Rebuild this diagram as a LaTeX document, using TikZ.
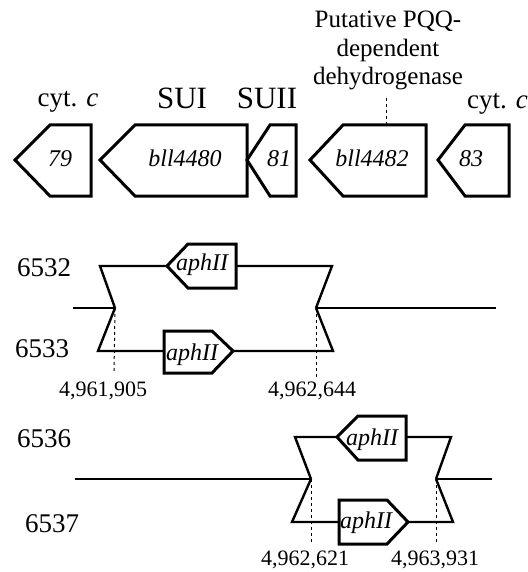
\documentclass[tikz,border=0pt]{standalone}
\usepackage{fontspec}
\setmainfont{Liberation Serif}
\begin{document}
\begin{tikzpicture}[x=1pt,y=-1pt,
  gene/.style={line width=3pt,line join=miter},
  chrom/.style={line width=2.4pt,line join=miter},
  marker/.style={line width=3pt,line join=miter,fill=white},
  site/.style={dashed,line width=1pt},
  lab/.style={inner sep=0pt,font=\fontsize{27}{29}\selectfont},
  big/.style={inner sep=0pt,font=\fontsize{31}{33}\selectfont},
  glab/.style={inner sep=0pt,font=\fontsize{24}{26}\selectfont\itshape},
  plab/.style={inner sep=0pt,font=\fontsize{25}{27}\selectfont},
  clab/.style={inner sep=0pt,font=\fontsize{22}{24}\selectfont}]
\useasboundingbox (0,0) rectangle (527,572);
% ---------- top gene map ----------
\draw[gene] (15,160) -- (50,125) -- (91,125) -- (91,196) -- (50,196) -- cycle;
\draw[gene] (100,160) -- (135,125) -- (247,125) -- (247,196) -- (135,196) -- cycle;
\draw[gene] (247,160) -- (270,125) -- (296,125) -- (296,196) -- (270,196) -- cycle;
\draw[gene] (310,160) -- (343,125) -- (426,125) -- (426,196) -- (343,196) -- cycle;
\draw[gene] (438,160) -- (465,125) -- (509,125) -- (509,196) -- (465,196) -- cycle;
\node[glab,anchor=base] (g79) at (60,167) {79};
\node[glab,anchor=base] (g80) at (185,167) {bll4480};
\node[glab,anchor=base] (g81) at (279,167) {81};
\node[glab,anchor=base] (g82) at (372,167) {bll4482};
\node[glab,anchor=base] (g83) at (471,167) {83};
\node[lab,anchor=base] (c1) at (68,107) {cyt. \textit{c}};
\node[big,anchor=base] (s1) at (182,109) {SUI};
\node[big,anchor=base] (s2) at (267,109) {SUII};
\node[lab,anchor=base west] (c2) at (467,109) {cyt. \textit{c}};
\node[plab,anchor=base] (p1) at (388,28) {Putative PQQ-};
\node[plab,anchor=base] (p2) at (388,57) {dependent};
\node[plab,anchor=base] (p3) at (388,85) {dehydrogenase};
\coordinate (pq) at (386,98);
\coordinate (pqe) at (386,124);
\draw[site] (pq) -- (pqe);
% ---------- 6532 / 6533 ----------
\coordinate (a1) at (115,308);
\coordinate (a2) at (316,308);
\coordinate (aL) at (73,308);
\coordinate (aR) at (496,308);
\draw[chrom] (aL) -- (a1);
\draw[chrom] (a2) -- (aR);
\draw[chrom] (a1) -- (100,266) -- (167,266);
\draw[chrom] (236,266) -- (332,266) -- (a2);
\draw[marker] (167,266) -- (188,244) -- (236,244) -- (236,288) -- (188,288) -- cycle;
\node[glab,anchor=base] (k1) at (202,270) {aphII};
\draw[chrom] (a1) -- (98,351) -- (164,351);
\draw[chrom] (233,351) -- (333,351) -- (a2);
\draw[marker] (164,331) -- (212,331) -- (233,351) -- (212,373) -- (164,373) -- cycle;
\node[glab,anchor=base] (k2) at (192,360) {aphII};
\coordinate (d1) at (114,373);
\coordinate (d2) at (316,380);
\draw[site] (a1) -- (d1);
\draw[site] (a2) -- (d2);
\node[lab,anchor=base west] (n32) at (17,276) {6532};
\node[lab,anchor=base west] (n33) at (15,357) {6533};
\node[clab,anchor=base] (q1) at (103,396) {4,961,905};
\node[clab,anchor=base] (q2) at (312,396) {4,962,644};
% ---------- 6536 / 6537 ----------
\coordinate (b1) at (311,479);
\coordinate (b2) at (436,479);
\coordinate (bL) at (75,479);
\coordinate (bR) at (492,479);
\draw[chrom] (bL) -- (b1);
\draw[chrom] (b2) -- (bR);
\draw[chrom] (b1) -- (295,437) -- (337,437);
\draw[chrom] (406,437) -- (451,437) -- (b2);
\draw[marker] (337,437) -- (358,416) -- (406,416) -- (406,460) -- (358,460) -- cycle;
\node[glab,anchor=base] (k3) at (372,445) {aphII};
\draw[chrom] (b1) -- (292,522) -- (339,522);
\draw[chrom] (408,522) -- (453,522) -- (b2);
\draw[marker] (339,500) -- (387,500) -- (408,522) -- (387,544) -- (339,544) -- cycle;
\node[glab,anchor=base] (k4) at (366,528) {aphII};
\coordinate (e1) at (311,543);
\coordinate (e2) at (436,543);
\draw[site] (b1) -- (e1);
\draw[site] (b2) -- (e2);
\node[lab,anchor=base west] (n36) at (17,447) {6536};
\node[lab,anchor=base west] (n37) at (25,532) {6537};
\node[clab,anchor=base] (q3) at (305,565) {4,962,621};
\node[clab,anchor=base] (q4) at (435,565) {4,963,931};
\end{tikzpicture}
\end{document}
